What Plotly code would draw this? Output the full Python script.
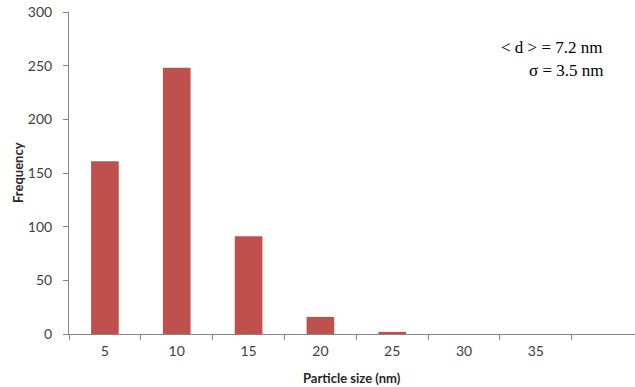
import plotly.graph_objects as go

sizes = ["5", "10", "15", "20", "25", "30", "35"]
frequency = [161, 248, 91, 16, 2, 0, 0]
y_ticks = [0, 50, 100, 150, 200, 250, 300]

bar_color = "#C0504D"
axis_color = "#868686"
tick_font = dict(family="Lato, 'Open Sans', sans-serif", size=14, color="#404040")
title_font = dict(family="Lato, 'Open Sans', sans-serif", size=13, color="#262626")

W, H = 635, 387
L, R, T, B = 69, 0, 12, 53
pw, ph = W - L - R, H - T - B

fig = go.Figure()
fig.add_trace(go.Bar(
    x=sizes, y=frequency,
    marker=dict(color=bar_color, line=dict(width=0)),
))

fig.update_layout(
    width=W, height=H,
    margin=dict(l=L, r=R, t=T, b=B, autoexpand=False),
    paper_bgcolor="white", plot_bgcolor="white",
    showlegend=False,
    bargap=0.615,
    xaxis=dict(
        type="category", automargin=False,
        range=[-0.5, 7.38],
        showline=True, linecolor=axis_color, linewidth=1,
        ticks="outside", tickson="boundaries", ticklen=5, tickcolor=axis_color,
        tickfont=tick_font, showgrid=False, zeroline=False,
        ticklabelstandoff=4,
    ),
    yaxis=dict(
        range=[0, 300], automargin=False,
        tickvals=y_ticks,
        showline=True, linecolor=axis_color, linewidth=1,
        ticks="outside", ticklen=5, tickcolor=axis_color,
        tickfont=tick_font, showgrid=False, zeroline=False,
        ticklabelstandoff=8,
    ),
    annotations=[
        dict(xref="paper", yref="paper", x=(352 - L) / pw, y=-(378 - (H - B)) / ph,
             xanchor="center", yanchor="middle", showarrow=False,
             text="<b>Particle size (nm)</b>", font=title_font),
        dict(xref="paper", yref="paper", x=-(L - 18) / pw, y=0.5,
             xanchor="center", yanchor="middle", showarrow=False, textangle=-90,
             text="<b>Frequency</b>", font=title_font),
        dict(xref="paper", yref="paper", x=(605 - L) / pw, y=((H - B) - 47) / ph,
             xanchor="right", yanchor="middle", showarrow=False,
             text="&lt; d &gt; = 7.2 nm",
             font=dict(family="Liberation Serif, serif", size=17, color="#000000")),
        dict(xref="paper", yref="paper", x=(605 - L) / pw, y=((H - B) - 70) / ph,
             xanchor="right", yanchor="middle", showarrow=False,
             text="σ = 3.5 nm",
             font=dict(family="Liberation Serif, serif", size=17, color="#000000")),
    ],
)

fig.write_html("out.html", config={"displayModeBar": False},
               post_script="document.body.style.margin='0';")
